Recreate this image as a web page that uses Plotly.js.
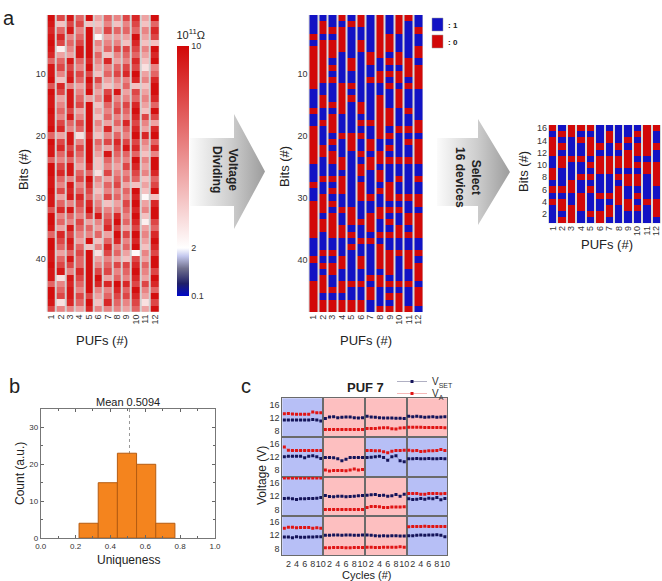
<!DOCTYPE html>
<html><head><meta charset="utf-8">
<script src="https://cdn.plot.ly/plotly-3.0.1.min.js"></script>
<style>html,body{margin:0;padding:0;background:#fff}#chart{width:662px;height:581px}</style>
</head><body><div id="chart"></div><script>
// ---------- DATA ----------
const pufs = [1,2,3,4,5,6,7,8,9,10,11,12];
const bitIdx48 = Array.from({length:48},(_,i)=>i+1);
const bitIdx16 = [16,15,14,13,12,11,10,9,8,7,6,5,4,3,2,1];
// resistance (10^11 Ohm) per PUF, bit 1..48
const resistance = [
 [9.8,9.5,9,9.5,9.8,9.5,9,7,9.5,9.5,9.8,7.5,9.8,9.5,9.5,9.8,9.5,9.5,9.8,7,9.8,9.5,9.5,7,9.8,9.8,9.5,9.5,9.8,9.5,9.5,7.5,9.8,9.8,9.5,7,9.8,9.8,9.5,9.5,9.8,9.5,9.5,7,9.8,9.8,9.5,8],
 [8,4,7,9,8,2.5,5,7,8,6,4,9,8,5,6,7,6,8,9,5,8,9,7,6,8,9,7,6,8,5,7,9,6,7,5,9,8,7,5,7,8,9.5,3,6,7,8,3,6],
 [9.5,8,9.5,6,7,6,5,9.5,8,9,9.5,6,9.5,9.5,9.5,8,9.5,7,6,9.5,9.5,8,9,7,9.5,9.5,6,9.5,9,9.5,6,9.5,7,6,9.5,8,9.5,9,7,9.5,8,6,9.5,9,9.5,9.5,9,6],
 [7,8,6,7,8,9.5,9.5,7,6,8,7,5,6,7,8,5,6,8,7,3,6,8,7,6,5,7,8,6,7,9,8,7,6,8,7,6,5,7,8,7,7,9,8,7,6,8,7,5],
 [9.8,4,9.8,9.8,9.8,9.8,9.8,9,9.8,8,9.8,9,9.8,5,9.8,9.8,9.8,9.8,9.8,9,9.8,9.8,9.8,9.8,9,7,9.8,9,8,7,9,9.8,8,5,7,6,9.8,4,9.8,9.8,9.8,9.8,9.8,9.8,9.8,8,9.8,9],
 [5,4,5,2.2,6,5,7,6,5,4,8,6,5,6,4,5,4,6,5,4,7,6,5,4,4,3,6,5,4,5,6,7,9.5,6,5,7,4,6,3,5,6,8,9.8,9,6,5,4,6],
 [7,6,8,5,6,7,4,9,6,7,5,4,8,9,7,6,7,5,9,6,8,5,9.5,7,6,8,5,7,6,8,4,6,7,8,9,5,7,9,8,6,7,8,5,9,6,7,9,6],
 [6,4,7,5,6,8,6,5,7,8,6,5,9.5,6,7,8,6,7,5,7,9,8,7,6,5,6,7,8,6,7,5,6,9,9.8,8,9.8,9,6,7,5,8,6,7,9.8,9,8,7,6],
 [8,6,7,5,4,8,7,6,8,9,6,7,5,6,8,7,6,9,7,6,8,9.5,7,6,8,6,7,5,7,6,8,7,6,7,5,8,6,7,5,4,8,7,6,9,7,8,6,5],
 [9,8,7,9.8,9,8,7,9,8,9.8,9,4,8,7,9,9.8,9,8,9,9.8,8,9,7,9.8,9,8,7,4,9.8,9,9.8,9,9.8,9,8,9.8,9,9.8,2.2,8,9,9.8,9,8,9.8,9,8,7],
 [5,4,6,5,4,6,5,4,3,5,6,4,5,6,5,4,8,6,5,9,6,5,4,6,5,6,4,5,4,2.2,5,6,4,2.5,5,6,5,4,6,5,7,6,5,8,6,5,3,5],
 [9.8,7,9,8,4,9.8,9,9.8,6,7,9,9.8,9.8,9,7,9.8,8,5,9,9.8,7,9,6,9.8,9.8,9,7,8,9.8,4,9,9.8,9.8,8,7,9,9.8,9,8,9.8,9.8,8,9.8,9,7,9.8,8,9.8]
];
// binary after voltage dividing (1 = blue, 0 = red), bit 1..48
const bits48 = [
 "111010000000111011000000111011000000111011100000",
 "100100000001100110111001110110001001110101000100",
 "110100010101110100010100110101010000110100110100",
 "010000111110000011101110010001101100111001100100",
 "101111100110101111100011111111100010101111101100",
 "001100111111110010101101001000111011011001101100",
 "111111001101111110110010011110110001011111010011",
 "000000011001100000001100100101100110100001001110",
 "111000101010111000101010111000101010110000101010",
 "000111001001000111011110110110101100110111101000",
 "011111100010111011010110111110110010110001101110",
 "110110010000111110010000110110010000110100010001"
];
// selected 16 bits, listed from bit 16 down to bit 1
const bits16 = [
 "0100011001010111","1010100111010010","0011101110011000","0101101101100011",
 "0100010101011101","1110100011101100","1001100011101001","1110100101000111",
 "1101000100110011","1010010100101011","0000010011110111","0110110000110001"
];
// uniqueness histogram
const uniqBinCenters = [0.275,0.385,0.495,0.605,0.715];
const uniqCounts = [4,15,23,20,4];
const uniqMean = 0.5094;
// PUF 7 cycling (4x4 grid of devices, 10 cycles each)
const cycles = [1,2,3,4,5,6,7,8,9,10];
const vSet = [
 [11.3,11.3,11.3,11.3,11.3,11.3,11.3,11.4,11.3,11.0],
 [11.7,12.2,12.3,12.0,12.1,12.2,12.2,12.0,11.9,12.0],
 [12.4,12.2,12.1,12.0,11.9,11.9,11.9,11.8,11.8,11.7],
 [12.4,12.3,12.4,12.3,12.1,12.2,12.3,12.1,12.2,12.3],
 [12.0,12.2,12.2,12.2,12.2,11.7,12.2,12.3,12.0,11.5],
 [11.8,11.8,11.7,11.4,10.8,11.3,11.8,11.8,11.8,11.8],
 [11.8,11.9,12.0,12.2,11.8,11.0,12.0,12.3,10.8,10.5],
 [11.4,11.4,11.5,11.4,11.4,11.5,11.4,11.4,11.5,11.4],
 [11.3,11.4,11.2,11.0,11.2,11.2,11.3,11.3,11.4,11.6],
 [12.2,11.9,11.8,12.0,12.0,11.8,11.9,12.0,12.1,12.2],
 [12.3,12.4,12.5,12.2,12.3,12.0,12.1,12.5,12.0,12.6],
 [11.2,11.0,11.1,11.3,11.1,11.4,11.2,11.6,10.9,11.3],
 [11.5,11.5,11.3,11.6,11.4,11.4,11.5,11.5,11.6,11.6],
 [12.0,12.0,12.1,12.1,12.0,12.1,12.1,12.0,12.0,12.1],
 [12.1,12.0,11.9,11.8,11.9,11.8,11.9,11.9,11.8,11.8],
 [11.9,11.9,12.0,12.1,12.0,12.1,12.1,12.2,12.0,11.6]
];
const vA = [
 [13.2,13.3,13.1,13.0,13.0,13.0,13.0,13.7,13.5,13.5],
 [8.4,8.4,8.4,8.4,8.4,8.4,8.4,8.4,8.4,8.4],
 [8.7,8.7,8.7,8.8,8.9,8.9,8.6,8.5,8.8,8.9],
 [9.1,9.1,9.1,9.1,9.0,9.0,9.0,9.0,9.0,8.9],
 [15.0,14.0,13.9,13.9,13.9,13.9,13.9,13.9,13.9,13.9],
 [8.0,7.7,7.9,7.9,7.9,7.8,8.0,8.3,8.0,8.2],
 [13.9,13.9,13.8,13.8,13.5,13.2,13.7,13.9,13.9,14.0],
 [14.0,13.8,13.9,13.6,13.7,13.8,13.8,13.9,14.2,13.9],
 [17.5,17.5,17.5,17.5,17.5,17.5,17.5,17.5,17.5,17.5],
 [8.0,8.0,8.0,8.0,8.0,8.0,8.0,8.0,8.0,8.0],
 [8.6,8.9,8.9,8.8,8.6,8.6,8.7,8.7,8.7,8.8],
 [12.8,12.8,12.8,12.6,12.6,12.8,12.8,12.8,12.7,12.8],
 [14.2,14.5,14.5,14.3,14.4,14.4,14.4,14.2,14.3,14.2],
 [8.2,8.2,8.3,8.3,8.3,8.2,8.2,8.3,8.3,8.3],
 [8.4,8.4,8.3,8.3,8.4,8.4,8.4,8.4,8.5,8.4],
 [14.6,14.7,14.7,14.7,14.8,14.7,14.7,14.7,14.7,14.7]
];
const cellState = [[1,0,0,0],[1,0,1,1],[1,0,0,1],[1,0,0,1]];

// ---------- LAYOUT HELPERS ----------
const W = 662, H = 581;
const X = p => p / W;
const Y = p => 1 - p / H;
const FONT = 'Arial, "Liberation Sans", sans-serif';
const RED = '#d20808', BLUE = '#1212c4';

const traces = [];
const layout = {
  width: W, height: H, margin: {l:0, r:0, t:0, b:0},
  paper_bgcolor: '#fff', plot_bgcolor: 'rgba(0,0,0,0)',
  font: {family: FONT, color: '#222', size: 10},
  showlegend: true, shapes: [], annotations: [],
  hovermode: false
};
function ann(text, x, y, size, opts) {
  layout.annotations.push(Object.assign({text, x: X(x), y: Y(y), xref:'paper', yref:'paper',
    xanchor:'center', yanchor:'middle', showarrow:false, font:{family:FONT, size, color:'#222'}}, opts || {}));
}
function T(rows, cols, fn) { const z=[]; for (let r=0;r<rows;r++){const row=[];for(let c=0;c<cols;c++)row.push(fn(r,c));z.push(row);} return z; }

const hmAxisX = (dom, anchor) => ({domain: dom, anchor, range:[0.5,12.5], tickvals: pufs, tickangle:-90,
  tickfont:{size:9, color:'#333'}, ticks:'', showgrid:false, zeroline:false, fixedrange:true});

// ---------- Heatmap 1 : resistance ----------
traces.push({type:'heatmap', xaxis:'x', yaxis:'y', x:pufs, y:bitIdx48,
  z: T(48,12,(r,c)=>resistance[c][r]), zmin:0.1, zmax:10, xgap:2,
  colorscale:[[0,'#0008c8'],[0.05,'#202068'],[0.11,'#70708e'],[0.16,'#c4c8ee'],[0.192,'#ffffff'],[1,RED]],
  colorbar:{x:X(166.5), xanchor:'left', y:Y(17.3), yanchor:'top', len:(306-17.3)/H, lenmode:'fraction',
    thickness:12, outlinewidth:0, tickvals:[0.1,2,10], ticktext:['0.1','2','10'], ticks:'',
    tickfont:{size:9,color:'#333'}, title:{text:'10<sup>11</sup>Ω', side:'top', font:{size:11,color:'#222'}}},
  showlegend:false, hoverinfo:'skip'});
layout.xaxis = hmAxisX([X(46.7), X(159.3)], 'y');
layout.yaxis = {domain:[Y(311.7), Y(15)], anchor:'x', range:[48.5,0.5], tickvals:[10,20,30,40],
  tickfont:{size:9,color:'#333'}, ticks:'', showgrid:false, zeroline:false};
layout.shapes.push({type:'rect', xref:'x domain', yref:'y domain', x0:0, x1:1, y0:0, y1:1,
  fillcolor:'#d2d2d2', line:{width:0}, layer:'below'});
ann('Bits (#)', 23, 170, 13, {textangle:-90});
ann('PUFs (#)', 102, 340, 13);

// ---------- Heatmap 2 : 48 bits ----------
traces.push({type:'heatmap', xaxis:'x2', yaxis:'y2', x:pufs, y:bitIdx48,
  z: T(48,12,(r,c)=>+bits48[c][r]), zmin:0, zmax:1, xgap:2,
  colorscale:[[0,RED],[0.5,RED],[0.5,BLUE],[1,BLUE]], showscale:false, showlegend:false, hoverinfo:'skip'});
layout.xaxis2 = hmAxisX([X(308.5), X(423)], 'y2');
layout.yaxis2 = {domain:[Y(312), Y(15)], anchor:'x2', range:[48.5,0.5], tickvals:[10,20,30,40],
  tickfont:{size:9,color:'#333'}, ticks:'', showgrid:false, zeroline:false};
layout.shapes.push({type:'rect', xref:'x2 domain', yref:'y2 domain', x0:0, x1:1, y0:0, y1:1,
  fillcolor:'#d8d8d8', line:{width:0}, layer:'below'});
ann('Bits (#)', 285, 167, 13, {textangle:-90});
ann('PUFs (#)', 366, 340, 13);
// legend squares
layout.shapes.push({type:'rect', xref:'paper', yref:'paper', x0:X(432), x1:X(443), y0:Y(31), y1:Y(18), fillcolor:BLUE, line:{color:'#999',width:0.5}});
layout.shapes.push({type:'rect', xref:'paper', yref:'paper', x0:X(432), x1:X(443), y0:Y(48), y1:Y(35), fillcolor:RED, line:{color:'#999',width:0.5}});
ann('<b>: 1</b>', 446, 25, 8, {xanchor:'left'});
ann('<b>: 0</b>', 446, 42, 8, {xanchor:'left'});

// ---------- Heatmap 3 : 16 bits ----------
traces.push({type:'heatmap', xaxis:'x3', yaxis:'y3', x:pufs, y:bitIdx16,
  z: T(16,12,(r,c)=>+bits16[c][r]), zmin:0, zmax:1, xgap:2,
  colorscale:[[0,RED],[0.5,RED],[0.5,BLUE],[1,BLUE]], showscale:false, showlegend:false, hoverinfo:'skip'});
layout.xaxis3 = hmAxisX([X(548), X(661)], 'y3');
layout.yaxis3 = {domain:[Y(223.3), Y(125)], anchor:'x3', range:[0.5,16.5], tickvals:[2,4,6,8,10,12,14,16],
  tickfont:{size:9,color:'#333'}, ticks:'', showgrid:false, zeroline:false};
layout.shapes.push({type:'rect', xref:'x3 domain', yref:'y3 domain', x0:0, x1:1, y0:0, y1:1,
  fillcolor:'#d8d8d8', line:{width:0}, layer:'below'});
ann('Bits (#)', 524, 172, 13, {textangle:-90});
ann('PUFs (#)', 607, 244, 13);

// ---------- Histogram (b) ----------
layout.shapes.push({type:'line', xref:'x4', yref:'y4', x0:uniqMean, x1:uniqMean, y0:0, y1:35,
  line:{color:'#999', width:1, dash:'dot'}, layer:'below'});
traces.push({type:'bar', xaxis:'x4', yaxis:'y4', x:uniqBinCenters, y:uniqCounts, width:0.11,
  marker:{color:'#f4841e', line:{color:'#b55c12', width:1}}, showlegend:false, hoverinfo:'skip'});
layout.xaxis4 = {domain:[X(40.7), X(215)], anchor:'y4', range:[0,1], tickvals:[0,0.2,0.4,0.6,0.8,1],
  ticktext:['0.0','0.2','0.4','0.6','0.8','1.0'], tickfont:{size:8,color:'#333'}, ticks:'inside', ticklen:3,
  tickcolor:'#666', showline:true, mirror:'allticks', linecolor:'#777', linewidth:1, showgrid:false, zeroline:false,
  minor:{tickvals:[0.1,0.3,0.5,0.7,0.9], ticks:'inside', ticklen:2, tickcolor:'#666'}};
layout.yaxis4 = {domain:[Y(538), Y(409)], anchor:'x4', range:[0,35], tickvals:[0,10,20,30],
  tickfont:{size:8,color:'#333'}, ticks:'inside', ticklen:3, tickcolor:'#666', showline:true, mirror:'allticks',
  linecolor:'#777', linewidth:1, showgrid:false, zeroline:false,
  minor:{tickvals:[5,15,25,35], ticks:'inside', ticklen:2, tickcolor:'#666'}};
ann('Mean 0.5094', 128, 402, 11);
ann('Count (a.u.)', 20, 474, 12, {textangle:-90});
ann('Uniqueness', 128, 560, 12);

// ---------- Cycling grid (c) ----------
const colB = [282.3, 323.3, 365, 406.7, 447.3];
const rowB = [398.3, 437.3, 476.7, 516, 555];
for (let r=0;r<4;r++) for (let c=0;c<4;c++) {
  const i = r*4+c, n = 5+i;
  const xa = 'x'+n, ya = 'y'+n;
  layout['xaxis'+n] = {domain:[X(colB[c]), X(colB[c+1])], anchor:ya, range:[0.5,10.6], tickvals:[2,4,6,8,10],
    showticklabels: r===3, tickangle:0, ticks:'', tickfont:{size:9,color:'#333'}, showline:true, mirror:true,
    linecolor:'#6a6a6a', linewidth:1, showgrid:false, zeroline:false};
  layout['yaxis'+n] = {domain:[Y(rowB[r+1]), Y(rowB[r])], anchor:xa, range:[6,17.9], tickvals:[8,12,16],
    showticklabels: c===0, ticks:'', tickfont:{size:9,color:'#333'}, showline:true, mirror:true,
    linecolor:'#6a6a6a', linewidth:1, showgrid:false, zeroline:false};
  layout.shapes.push({type:'rect', xref:xa+' domain', yref:ya+' domain', x0:0, x1:1, y0:0, y1:1,
    fillcolor: cellState[r][c] ? '#b7bff6' : '#fdbfc0', line:{width:0}, layer:'below'});
  traces.push({type:'scatter', mode:'lines+markers', xaxis:xa, yaxis:ya, x:cycles, y:vSet[i],
    line:{color:'#7a7a9a', width:0.6}, marker:{symbol:'square', size:3, color:'#14145a'},
    name:'V<sub>SET</sub>', showlegend: i===0, legend:'legend', hoverinfo:'skip'});
  traces.push({type:'scatter', mode:'lines+markers', xaxis:xa, yaxis:ya, x:cycles, y:vA[i],
    line:{color:'#f08a8a', width:0.6}, marker:{symbol:'square', size:3, color:'#e01414'},
    name:'V<sub>A</sub>', showlegend: i===0, legend:'legend2', hoverinfo:'skip'});
}
layout.legend = {x:X(392), y:Y(367), xanchor:'left', yanchor:'top', bgcolor:'rgba(0,0,0,0)',
  font:{size:10,color:'#333'}, itemwidth:30, tracegroupgap:0};
layout.legend2 = {x:X(392), y:Y(379), xanchor:'left', yanchor:'top', bgcolor:'rgba(0,0,0,0)',
  font:{size:10,color:'#333'}, itemwidth:30, tracegroupgap:0};
ann('<b>PUF 7</b>', 366, 387, 13);
ann('Voltage (V)', 262, 476, 12, {textangle:-90});
ann('Cycles (#)', 367, 575, 11);

// ---------- Overlay: arrows ----------
layout.xaxis21 = {domain:[0,1], anchor:'y21', range:[0,W], visible:false, fixedrange:true};
layout.yaxis21 = {domain:[0,1], anchor:'x21', range:[H,0], visible:false, fixedrange:true};
function arrow(x0, xb, xt, yb0, yb1, yh0, yh1) {
  const yc = (yh0+yh1)/2;
  traces.push({type:'scatter', xaxis:'x21', yaxis:'y21', mode:'lines',
    x:[x0, xb, xb, xt, xb, xb, x0, x0], y:[yb0, yb0, yh0, yc, yh1, yb1, yb1, yb0],
    fill:'toself', line:{width:0, color:'rgba(0,0,0,0)'}, fillcolor:'#c0c0c0',
    fillgradient:{type:'horizontal', colorscale:[[0,'#fbfbfb'],[0.55,'#cdcdcd'],[1,'#9c9c9c']]},
    showlegend:false, hoverinfo:'skip'});
}
arrow(190, 234, 265, 138, 206, 114, 229);
arrow(437, 478, 510, 138, 206, 119, 225);
ann('<b>Voltage<br>Dividing</b>', 225, 169, 12, {textangle:90});
ann('<b>Select<br>16 devices</b>', 468, 177, 12, {textangle:90});

// panel letters
ann('a', 9, 18, 20);
ann('b', 14, 386, 20);
ann('c', 246, 386, 20);

Plotly.newPlot('chart', traces, layout, {staticPlot:true, displayModeBar:false});
</script></body></html>
